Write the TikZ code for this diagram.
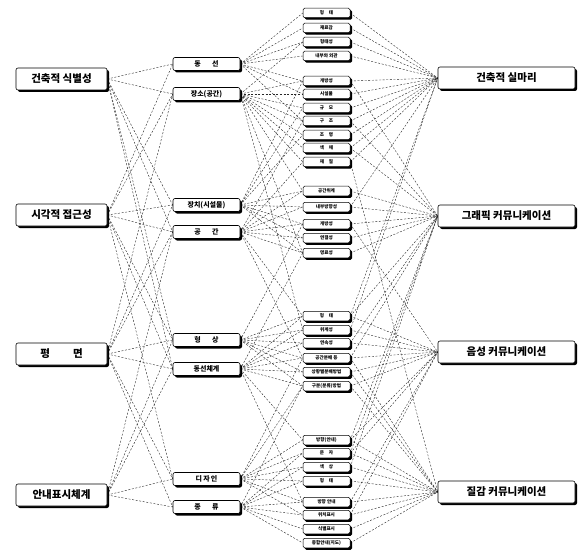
\documentclass[tikz,border=0pt]{standalone}
\usepackage{fontspec}
\newfontfamily\kr{Noto Sans CJK KR}
\usetikzlibrary{shadows,backgrounds}
\begin{document}
\begin{tikzpicture}[x=1pt,y=-1pt,
  box/.style={draw=black, line width=0.6pt, rounded corners=2pt, fill=white, inner sep=0pt,
     drop shadow={shadow xshift=2pt, shadow yshift=-2pt, fill=black, opacity=1}},
  big/.style={box, minimum width=91pt, minimum height=22pt, font=\kr\bfseries\fontsize{10.5}{12}\selectfont},
  rbig/.style={box, minimum width=137pt, minimum height=22pt, font=\kr\bfseries\fontsize{10.5}{12}\selectfont},
  mid/.style={box, minimum width=67pt, minimum height=13pt, font=\kr\bfseries\fontsize{7}{8}\selectfont},
  sm/.style={box, line width=0.5pt, rounded corners=1.5pt, minimum width=47pt, minimum height=9.5pt,
     font=\kr\bfseries\fontsize{4.6}{5}\selectfont,
     drop shadow={shadow xshift=1.5pt, shadow yshift=-1.5pt, fill=black, opacity=1}},
  link/.style={line width=0.4pt, dash pattern=on 2pt off 1.6pt, black!85}]
\useasboundingbox (0,0) rectangle (582,551);
% left column
\node[big] (L1) at (61.5,79) {건축적 식별성};
\node[big] (L2) at (61.5,215) {시각적 접근성};
\node[big] (L3) at (61.5,354) {평\hspace{2.2em}면};
\node[big] (L4) at (61.5,495) {안내표시체계};
% middle column
\node[mid] (m1) at (206.5,64) {동\hspace{1.6em}선};
\node[mid] (m2) at (206.5,94) {장소(공간)};
\node[mid] (m3) at (206.5,205) {장치(시설물)};
\node[mid] (m4) at (206.5,232) {공\hspace{1.6em}간};
\node[mid] (m5) at (206.5,340) {형\hspace{1.6em}상};
\node[mid] (m6) at (206.5,369) {동선체계};
\node[mid] (m7) at (206.5,479) {디\,자\,인};
\node[mid] (m8) at (206.5,507) {종\hspace{1.6em}류};
% small column
\foreach \n/\y/\t in {
  1/13/{형\hspace{1em}태}, 2/28/{재료감}, 3/42/{형태성}, 4/56/{내부와 외관},
  5/81/{개방성}, 6/94/{시설물}, 7/108/{규\hspace{1em}모}, 8/121/{구\hspace{1em}조},
  9/135/{조\hspace{1em}명}, 10/148/{색\hspace{1em}채}, 11/162/{재\hspace{1em}질},
  12/191/{공간위계}, 13/207/{내부방향성}, 14/224/{개방성}, 15/238/{연결성}, 16/253/{명료성},
  17/316/{형\hspace{1em}태}, 18/330/{위계성}, 19/343/{연속성}, 20/358/{공간분배 등},
  21/372/{상황별분배방법}, 22/386/{구분(분류)방법},
  23/440/{방향(안내)}, 24/453/{문\hspace{1em}자}, 25/467/{색\hspace{1em}상}, 26/481/{형\hspace{1em}태},
  27/502/{방향 안내}, 28/515/{위치표시}, 29/529/{식별표시}, 30/543/{종합안내(지도)}}
  \node[sm] (s\n) at (326.5,\y) {\t};
% right column
\node[rbig] (R1) at (506.5,78) {건축적 실마리};
\node[rbig] (R2) at (506.5,216) {그래픽 커뮤니케이션};
\node[rbig] (R3) at (506.5,352) {음성 커뮤니케이션};
\node[rbig] (R4) at (506.5,492) {질감 커뮤니케이션};
\begin{pgfonlayer}{background}
\fill[white] (0,0) rectangle (582,551);
% left -> middle
\foreach \a/\b in {L1/m1,L1/m2,L1/m3,L1/m4,L1/m5,L1/m6,
  L2/m1,L2/m2,L2/m3,L2/m4,L2/m5,L2/m6,L2/m7,
  L3/m2,L3/m3,L3/m4,L3/m5,L3/m6,L3/m7,L3/m8,
  L4/m4,L4/m5,L4/m6,L4/m7,L4/m8}
  \draw[link] (\a.east) -- (\b.west);
% middle -> small
\foreach \a/\b in {m1/s1,m1/s2,m1/s3,m1/s4,m1/s5,m1/s6,m1/s8,
  m2/s3,m2/s5,m2/s6,m2/s7,m2/s8,m2/s9,m2/s10,m2/s11,m2/s12,m2/s16,m2/s18,
  m3/s5,m3/s7,m3/s9,m3/s12,m3/s13,m3/s14,m3/s15,m3/s16,
  m4/s8,m4/s11,m4/s12,m4/s13,m4/s14,m4/s15,m4/s16,m4/s17,m4/s20,
  m5/s14,m5/s17,m5/s18,m5/s19,m5/s20,m5/s21,m5/s22,
  m6/s16,m6/s17,m6/s18,m6/s19,m6/s20,m6/s21,m6/s22,m6/s23,m6/s27,
  m7/s20,m7/s22,m7/s23,m7/s24,m7/s25,m7/s26,m7/s27,m7/s28,
  m8/s22,m8/s24,m8/s25,m8/s26,m8/s27,m8/s28,m8/s29,m8/s30}
  \draw[link] (\a.east) -- (\b.west);
% small -> right
\foreach \a/\b in {s1/R1,s2/R1,s3/R1,s4/R1,s5/R1,s6/R1,s7/R1,s8/R1,s9/R1,s10/R1,s11/R1,s13/R1,s17/R1,s18/R1,
  s5/R2,s8/R2,s10/R2,s12/R2,s13/R2,s14/R2,s15/R2,s16/R2,s17/R2,s19/R2,s20/R2,s23/R2,s24/R2,s25/R2,
  s14/R3,s17/R3,s18/R3,s19/R3,s20/R3,s21/R3,s22/R3,s23/R3,s24/R3,s27/R3,s28/R3,
  s11/R4,s20/R4,s21/R4,s22/R4,s23/R4,s24/R4,s25/R4,s26/R4,s27/R4,s28/R4,s29/R4,s30/R4}
  \draw[link] (\a.east) -- (\b.west);
\end{pgfonlayer}
\end{tikzpicture}
\end{document}
